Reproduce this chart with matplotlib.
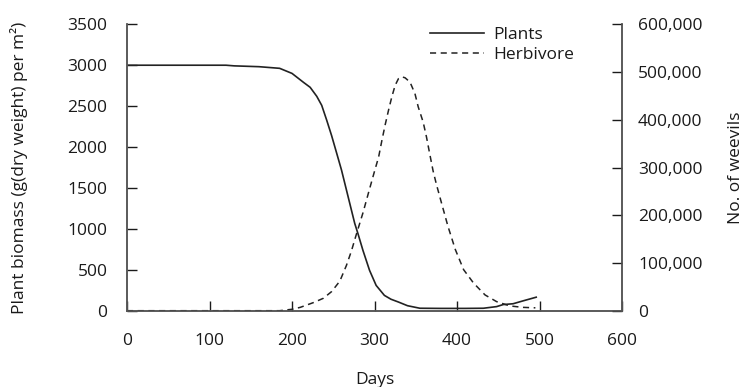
import matplotlib
matplotlib.use("Agg")
import matplotlib.pyplot as plt
from matplotlib.ticker import FuncFormatter, MultipleLocator

# ---- data ----
plant_days = [0, 120, 130, 160, 185, 200, 214, 222, 230, 236, 242, 248, 254, 260,
              266, 270, 276, 280, 286, 294, 302, 312, 320, 329, 340, 355, 380, 410,
              432, 448, 456, 468, 480, 496]
plant_biomass = [3000, 3000, 2992, 2982, 2962, 2900, 2790, 2730, 2620, 2510, 2330,
                 2140, 1930, 1719, 1475, 1312, 1068, 940, 737, 493, 309, 187, 140,
                 106, 61, 30, 28, 28, 30, 50, 75, 85, 120, 165]

herb_days = [0, 185, 200, 210, 226, 238, 248, 258, 266, 272, 278, 286, 294, 300,
             305, 309, 313, 317, 321, 325, 329, 333, 337, 343, 349, 353, 359, 363,
             367, 371, 375, 381, 389, 398, 408, 420, 434, 448, 464, 480, 495]
herb_count = [0, 0, 3000, 7000, 17000, 26000, 40000, 62000, 95000, 125000, 160000,
              205000, 255000, 292000, 322000, 357000, 390000, 420000, 448000,
              472000, 486000, 490000, 488000, 479000, 455000, 427000, 395000,
              364000, 328000, 293000, 265000, 227000, 177000, 128000, 86000,
              58000, 33000, 19000, 10000, 7000, 6000]

series_labels = ["Plants", "Herbivore"]
x_label = "Days"
y_left_label = "Plant biomass (g(dry weight) per m\u00b2)"
y_right_label = "No. of weevils"

# ---- style ----
plt.rcParams['font.family'] = ['Open Sans', 'DejaVu Sans']
FS = 12.5
TXT = "#1a1a1a"
SPINE = "#555555"
LINE = "#222222"

fig = plt.figure(figsize=(7.46, 3.87), dpi=100)
ax = fig.add_axes([127/746, 1-310.7/387, (622-127)/746, (310.7-24.3)/387])
ax2 = ax.twinx()

l1, = ax.plot(plant_days, plant_biomass, color=LINE, lw=1.2, label=series_labels[0])
l2, = ax2.plot(herb_days, herb_count, color=LINE, lw=1.1,
               linestyle=(0, (4.0, 3.0)), label=series_labels[1])

ax.set_xlim(0, 600)
ax.set_ylim(0, 3500)
ax2.set_ylim(0, 600000)
ax.xaxis.set_major_locator(MultipleLocator(100))
ax.yaxis.set_major_locator(MultipleLocator(500))
ax2.yaxis.set_major_locator(MultipleLocator(100000))
ax2.yaxis.set_major_formatter(FuncFormatter(lambda v, p: f"{int(v):,}"))

for a in (ax, ax2):
    a.spines['top'].set_visible(False)
    for s in ('left', 'right', 'bottom'):
        a.spines[s].set_color(SPINE)
        a.spines[s].set_linewidth(1.1)

ax.tick_params(axis='x', direction='in', length=7.5, width=1, color=TXT,
               labelsize=FS, labelcolor=TXT, pad=16)
ax.tick_params(axis='y', direction='in', length=7.5, width=1, color=TXT,
               labelsize=FS, labelcolor=TXT, pad=14)
ax2.tick_params(axis='y', direction='in', length=7.5, width=1, color=TXT,
                labelsize=FS, labelcolor=TXT, pad=11.5)

ax.set_xlabel(x_label, fontsize=FS, color=TXT)
ax.xaxis.set_label_coords(0.5, -0.215)
ax.set_ylabel(y_left_label, fontsize=FS, color=TXT)
ax.yaxis.set_label_coords(-0.2, 0.5)
ax2.set_ylabel(y_right_label, fontsize=FS, color=TXT)
ax2.yaxis.set_label_coords(1.215, 0.5)

leg = ax2.legend(handles=[l1, l2], loc='upper left',
                 bbox_to_anchor=(430/746, 1-27/387), bbox_transform=fig.transFigure,
                 frameon=False, fontsize=FS, handlelength=3.1, handletextpad=0.55,
                 labelspacing=0.2, borderpad=0, borderaxespad=0)
for t in leg.get_texts():
    t.set_color(TXT)

fig.savefig("out.png", dpi=100)
